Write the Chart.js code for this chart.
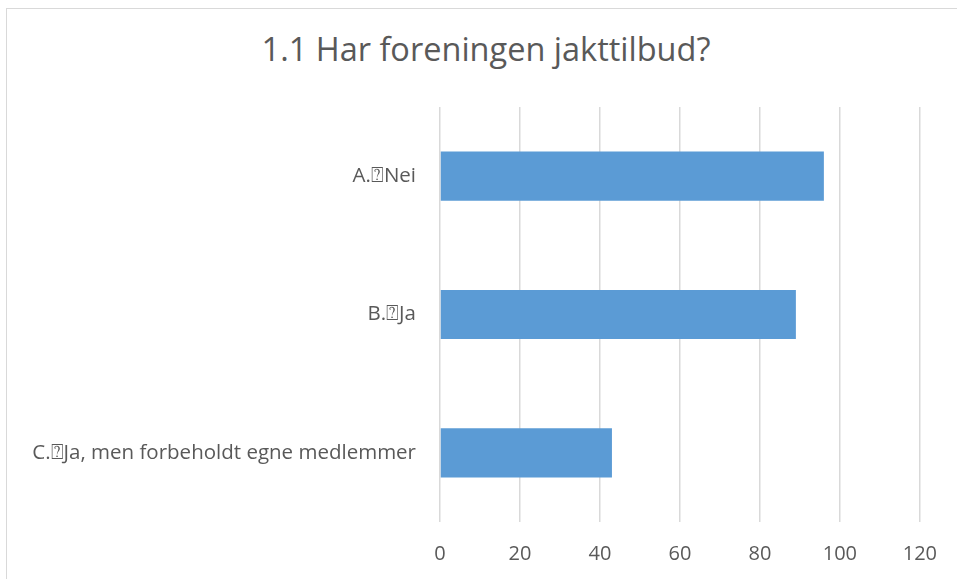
<!DOCTYPE html>
<html>
<head>
<meta charset="utf-8">
<script src="https://cdn.jsdelivr.net/npm/chart.js@4"></script>
<style>
  html, body { margin: 0; padding: 0; background: #fff; }
  #wrap { position: relative; width: 957px; height: 579px; overflow: hidden; }
  #frame { position: absolute; left: 6px; top: 8px; width: 960px; height: 600px; border: 1px solid #d9d9d9; box-sizing: border-box; }
  #title { position: absolute; left: 6px; width: 960px; top: 30px; line-height: 38px; text-align: center;
           font-family: "Open Sans", sans-serif; font-size: 32.5px; color: #595959; white-space: nowrap; }
  canvas { position: absolute; left: 0; top: 0; }
</style>
</head>
<body>
<div id="wrap">
  <div id="frame"></div>
  <div id="title">1.1 Har foreningen jakttilbud?</div>
  <canvas id="chart" width="957" height="579"></canvas>
</div>
<script>
const categories = ['A.\u2370Nei', 'B.\u2370Ja', 'C.\u2370Ja, men forbeholdt egne medlemmer'];
const values = [96, 89, 43];
const xTicks = [0, 20, 40, 60, 80, 100, 120];

const textColor = '#595959';
const fontFamily = '"Open Sans", sans-serif';

const ctx = document.getElementById('chart').getContext('2d');
new Chart(ctx, {
  type: 'bar',
  data: {
    labels: categories,
    datasets: [{
      data: values,
      backgroundColor: '#5b9bd5',
      barPercentage: 0.355,
      categoryPercentage: 1
    }]
  },
  options: {
    indexAxis: 'y',
    responsive: false,
    animation: false,
    // title is the html div above, so leave room for it here
    layout: { padding: { left: 0, right: 37, top: 107, bottom: 0 } },
    plugins: {
      legend: { display: false },
      tooltip: { enabled: false },
      title: { display: false }
    },
    scales: {
      x: {
        min: 0,
        max: 120,
        afterBuildTicks: scale => { scale.ticks = xTicks.map(v => ({ value: v })); },
        afterFit: scale => { scale.height = 57; },
        grid: { color: '#d9d9d9', lineWidth: 1.5, drawTicks: false },
        border: { display: false },
        ticks: { color: textColor, font: { family: fontFamily, size: 20 }, padding: 20 }
      },
      y: {
        afterFit: scale => { scale.width = 440; },
        grid: { display: false, drawTicks: false },
        border: { display: false },
        ticks: { color: textColor, font: { family: fontFamily, size: 20.5 }, padding: 24 }
      }
    }
  }
});
</script>
</body>
</html>
